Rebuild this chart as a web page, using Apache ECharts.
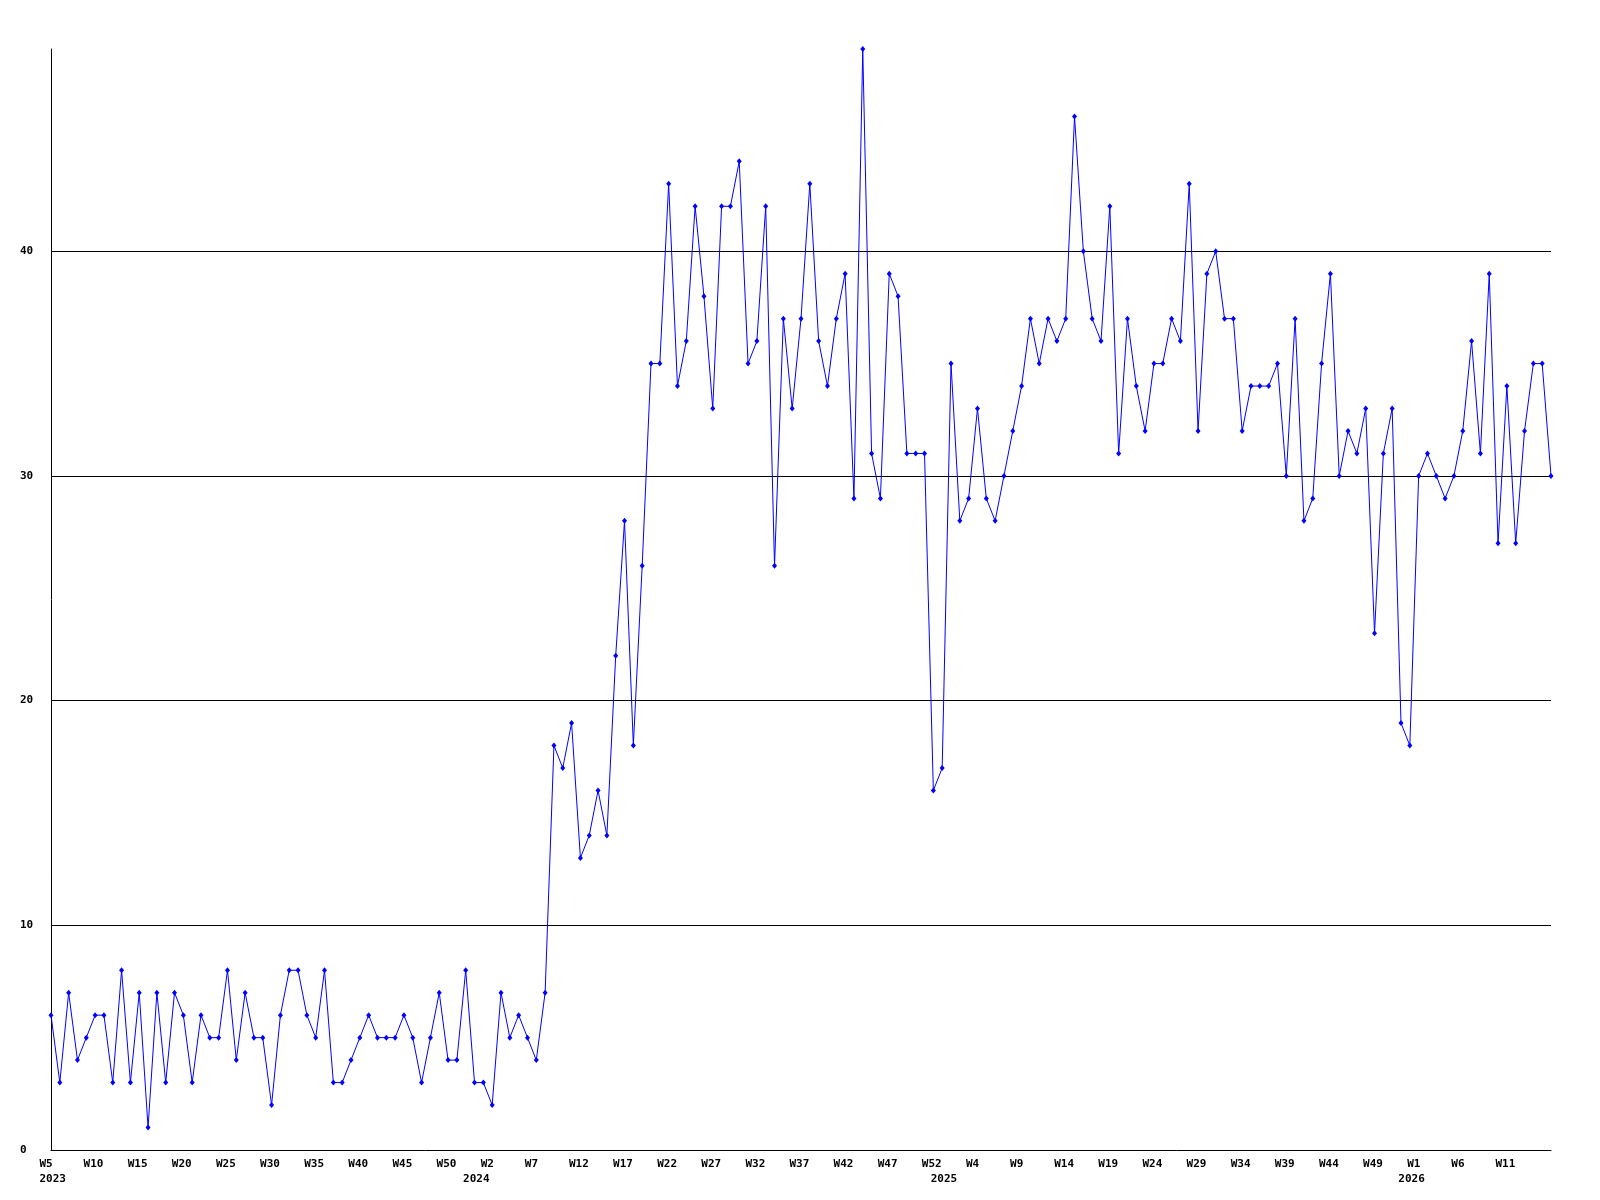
<!DOCTYPE html>
<html>
<head>
<meta charset="utf-8">
<script src="https://cdn.jsdelivr.net/npm/echarts@6/dist/echarts.min.js"></script>
<style>
html,body{margin:0;padding:0;background:#fff;}
#chart{width:1600px;height:1200px;}
</style>
</head>
<body>
<div id="chart"></div>
<script>
// Weekly values, 2023 W5 .. 2026 W16 (one per point)
const values = [
  6,3,7,4,5,6,6,3,8,3,7,1,7,3,7,6,3,6,5,5,8,4,7,5,5,2,6,8,8,6,5,
  8,3,3,4,5,6,5,5,5,6,5,3,5,7,4,4,8,3,3,2,7,5,6,5,4,7,
  18,17,19,13,14,16,14,22,28,18,26,
  35,35,43,34,36,42,38,33,42,42,44,35,36,42,26,37,33,37,43,36,34,37,39,29,49,31,29,39,38,31,31,31,
  16,17,35,28,29,33,29,28,30,32,34,37,35,37,36,37,46,40,37,36,
  42,31,37,34,32,35,35,37,36,43,32,39,40,37,37,32,34,34,34,35,30,37,28,29,
  35,39,30,32,31,33,23,31,33,19,18,30,31,30,29,30,32,36,31,39,27,34,27,32,35,35,30
];
// Week tick labels, one every 5 points
const weekTicks = ['W5','W10','W15','W20','W25','W30','W35','W40','W45','W50',
  'W2','W7','W12','W17','W22','W27','W32','W37','W42','W47','W52',
  'W4','W9','W14','W19','W24','W29','W34','W39','W44','W49',
  'W1','W6','W11'];
const tickStep = 5;
// Year labels and the point at which each year starts
const yearLabels = ['2023','2024','2025','2026'];
const yearStart = [0,48,101,154];
const yTicks = [0,10,20,30,40];

const categories = values.map((v,i)=>String(i));

const chart = echarts.init(document.getElementById('chart'), null, {renderer:'canvas'});
const font = '"DejaVu Sans Mono", monospace';
chart.setOption({
  animation:false,
  backgroundColor:'#ffffff',
  grid:{left:51,right:49,top:49,bottom:50,containLabel:false,outerBoundsMode:'none'},
  xAxis:{
    type:'category',
    data:categories,
    boundaryGap:false,
    axisLine:{show:true,lineStyle:{color:'#000',width:1}},
    axisTick:{show:false},
    splitLine:{show:false},
    axisLabel:{
      show:true,
      hideOverlap:false,
      interval:(idx)=> idx % tickStep === 0 || yearStart.indexOf(idx) >= 0,
      formatter:(val, idx)=>{
        const w = idx % tickStep === 0 ? (weekTicks[idx / tickStep] || ' ') : ' ';
        let s = '{a|' + w + '}';
        const y = yearStart.indexOf(idx);
        if (y >= 0) s += '\n{a|' + yearLabels[y] + '}';
        return s;
      },
      margin:7,
      rich:{
        a:{
          width:23,
          align:'left',
          color:'#000',
          fontFamily:font,
          fontWeight:'bold',
          fontSize:11,
          lineHeight:15
        }
      }
    }
  },
  yAxis:{
    type:'value',
    min:0,
    max:49,
    interval:10,
    axisLine:{show:true,lineStyle:{color:'#000',width:1}},
    axisTick:{show:false},
    splitLine:{show:true,showMinLine:false,showMaxLine:false,lineStyle:{color:'#000',width:1}},
    axisLabel:{
      showMaxLabel:false,
      formatter:(v)=> yTicks.indexOf(v) >= 0 ? String(v) : '',
      align:'left',
      margin:31,
      color:'#000',
      fontFamily:font,
      fontWeight:'bold',
      fontSize:11
    }
  },
  series:[{
    type:'line',
    data:values,
    showAllSymbol:true,
    symbol:'diamond',
    symbolSize:[5,6],
    lineStyle:{color:'#0000ff',width:1},
    itemStyle:{color:'#0000ff'},
    emphasis:{disabled:true}
  }]
});
</script>
</body>
</html>
